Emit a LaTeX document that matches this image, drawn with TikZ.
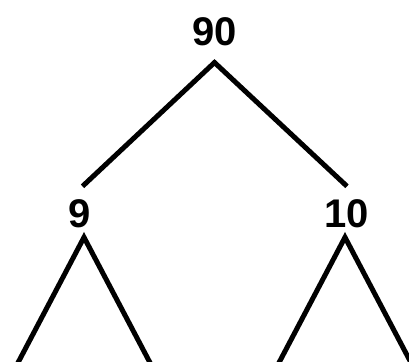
\documentclass[tikz,border=0pt]{standalone}
\usepackage{fontspec}
\setmainfont{Liberation Sans}
\begin{document}
\begin{tikzpicture}[x=1bp,y=-1bp,
  num/.style={font=\bfseries\fontsize{40bp}{40bp}\selectfont, inner sep=0pt, text height=28.6bp, text depth=0pt},
  edge/.style={line width=5bp, line join=miter, line cap=butt}]
\useasboundingbox (0,0) rectangle (409,362);
\clip (0,0) rectangle (409,362);
\node[num] (n90) at (215,31.5) {90};
\node[num] (n9) at (79.5,213.3) {9};
\node[num] (n10) at (346.5,213.3) {10};
\coordinate (a90) at ([xshift=-0.5bp,yshift=-16.5bp]n90.south);
\coordinate (t9) at ([xshift=3bp,yshift=12.5bp]n9.north);
\coordinate (t10) at ([xshift=0.5bp,yshift=12.5bp]n10.north);
\coordinate (a9) at ([xshift=4.5bp,yshift=-9.5bp]n9.south);
\coordinate (a10) at ([xshift=-1.5bp,yshift=-9.5bp]n10.south);
\coordinate (l9) at ([xshift=-70bp,yshift=-133bp]a9);
\coordinate (r9) at ([xshift=70bp,yshift=-133bp]a9);
\coordinate (l10) at ([xshift=-70bp,yshift=-133bp]a10);
\coordinate (r10) at ([xshift=70bp,yshift=-133bp]a10);
\draw[edge] (t9) -- (a90) -- (t10);
\draw[edge] (l9) -- (a9) -- (r9);
\draw[edge] (l10) -- (a10) -- (r10);
\end{tikzpicture}
\end{document}
